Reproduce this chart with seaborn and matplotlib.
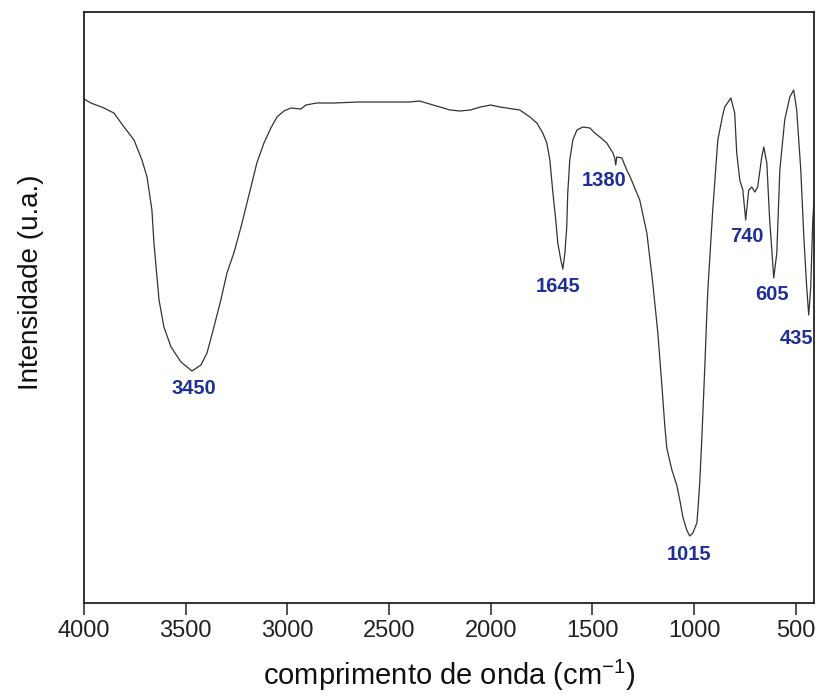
import matplotlib
matplotlib.use("Agg")
import matplotlib.pyplot as plt
import seaborn as sns
import pandas as pd

# FTIR spectrum: (wavenumber cm^-1, pixel row of the trace)
wavenumber = [4000, 3966, 3902, 3853, 3803, 3754, 3715, 3690, 3666, 3656,
              3641, 3631, 3607, 3572, 3523, 3469, 3425, 3395, 3361, 3327,
              3297, 3263, 3228, 3179, 3150, 3115, 3081, 3051, 3017, 2982,
              2933, 2909, 2855, 2771, 2650, 2500, 2400, 2350, 2300, 2250,
              2200, 2152, 2100, 2050, 2000, 1955, 1857, 1807, 1773, 1744,
              1724, 1709, 1694, 1680, 1670, 1655, 1645, 1635, 1626, 1621,
              1611, 1596, 1576, 1547, 1512, 1488, 1463, 1429, 1399, 1390,
              1385, 1380, 1355, 1331, 1316, 1267, 1232, 1203, 1178, 1159,
              1144, 1134, 1109, 1085, 1070, 1055, 1036, 1021, 1006, 986,
              981, 972, 962, 947, 937, 932, 908, 883, 859, 849,
              819, 800, 790, 775, 760, 746, 731, 716, 701, 687,
              667, 657, 642, 628, 613, 608, 593, 578, 554, 529,
              510, 495, 475, 460, 446, 436, 426, 416, 410]
trace_row = [99, 103, 108, 113, 127, 140, 160, 177, 210, 243,
             277, 300, 327, 347, 362, 371, 365, 353, 327, 300,
             273, 253, 227, 187, 163, 143, 128, 117, 111, 108,
             109, 105, 103, 103, 102, 102, 102, 101, 104, 107,
             110, 111, 110, 107, 105, 107, 110, 117, 123, 133,
             143, 160, 193, 220, 243, 260, 269, 253, 227, 193,
             160, 140, 130, 127, 128, 133, 137, 143, 153, 158,
             165, 157, 158, 170, 176, 200, 233, 283, 333, 383,
             425, 448, 470, 485, 500, 517, 530, 536, 533, 523,
             510, 483, 440, 367, 313, 290, 210, 140, 115, 107,
             98, 113, 153, 180, 190, 220, 190, 187, 192, 187,
             157, 147, 163, 220, 263, 278, 253, 170, 120, 97,
             90, 110, 170, 237, 287, 315, 287, 220, 200]
intensity = [603 - r for r in trace_row]

peak_labels = ["3450", "1645", "1380", "1015", "740", "605", "435"]
peak_wn = [3469, 1645, 1385, 1021, 746, 608, 436]
peak_int = [232, 334, 438, 67, 383, 325, 288]
label_offsets = [(2, -18), (-5, -17), (-12, -16), (-1, -18), (1, -17), (-2, -16), (-12, -23)]

sns.set_style("white")
plt.rcParams['font.family'] = ['Liberation Sans', 'DejaVu Sans']
plt.rcParams['mathtext.fontset'] = 'custom'
plt.rcParams['mathtext.rm'] = 'Liberation Sans'
plt.rcParams['mathtext.it'] = 'Liberation Sans'

df = pd.DataFrame({"wn": wavenumber, "I": intensity})

fig = plt.figure(figsize=(8.17, 7.0), dpi=100)
ax = fig.add_axes([84/817, 97/700, (814-84)/817, (603-12)/700])
sns.lineplot(data=df, x="wn", y="I", ax=ax, color="#333333", linewidth=0.9)

ax.set_xlim(4000, 410)
ax.set_ylim(0, 591)
ax.set_yticks([])
ax.set_xticks([4000, 3500, 3000, 2500, 2000, 1500, 1000, 500])
ax.tick_params(axis='x', direction='out', length=8.5, width=1.1, labelsize=17,
               bottom=True, pad=4, colors='#222222')
for s in ax.spines.values():
    s.set_color('#222222')
    s.set_linewidth(1.3)

ax.set_xlabel("comprimento de onda (cm$^{-1}$)", fontsize=21, labelpad=11, color='#111111')
ax.set_ylabel("Intensidade (u.a.)", fontsize=20, color='#111111')
ax.yaxis.set_label_coords(-0.055, 0.543)

for lab, x, y, off in zip(peak_labels, peak_wn, peak_int, label_offsets):
    ax.annotate(lab, xy=(x, y), xytext=off, textcoords='offset pixels',
                ha='center', va='center', fontsize=14.5, fontweight='bold',
                color='#1f2f9a', annotation_clip=False)

fig.savefig("out.png", dpi=100)
